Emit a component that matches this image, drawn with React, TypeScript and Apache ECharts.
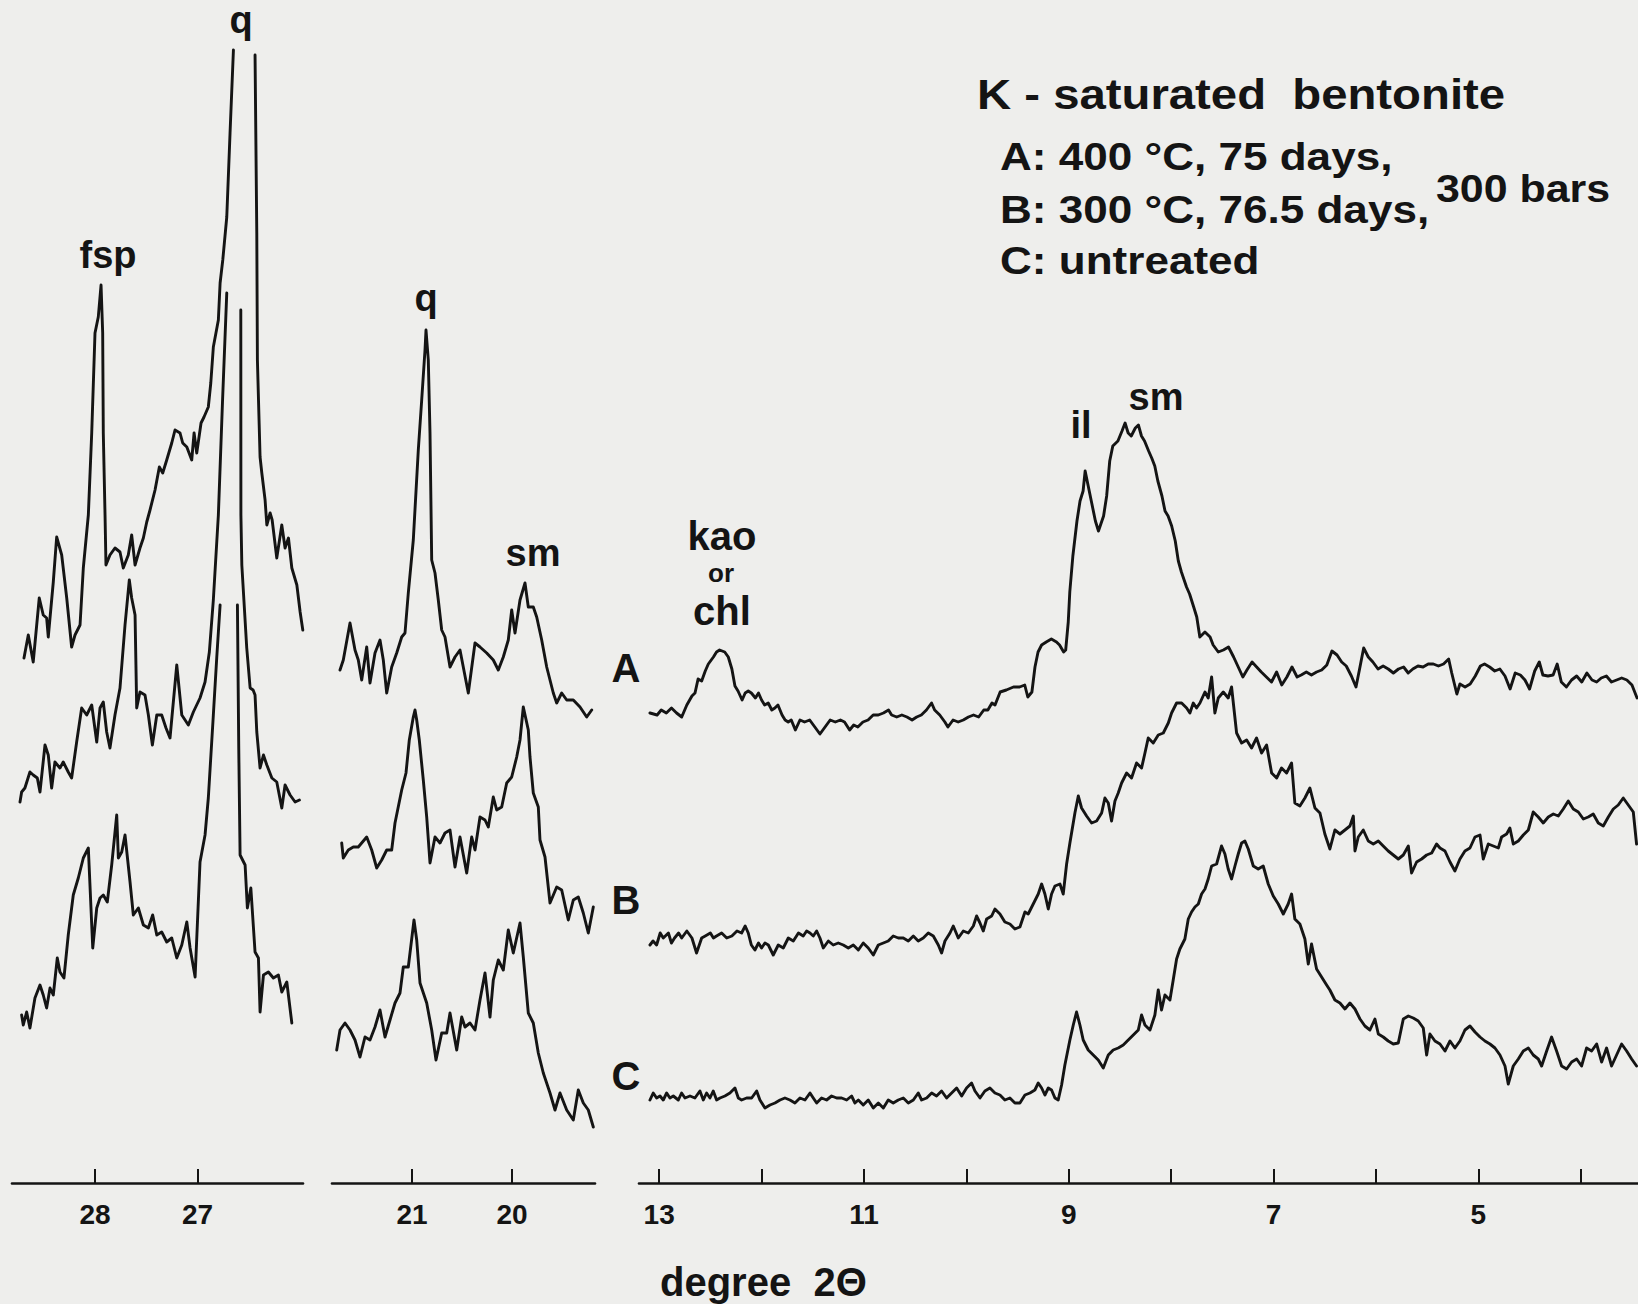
import React, { useEffect, useRef } from "react";
import * as echarts from "echarts";

type Pt = [number, number] | null;

// ---------- axis ticks ----------
const P1_TICKS = [28, 27];
const P2_TICKS = [21, 20];
const P3_TICKS = [13, 12, 11, 10, 9, 8, 7, 6, 5, 4];
const P3_LABELS = [13, 11, 9, 7, 5];

// ---------- traces: [2theta, plotted intensity]; null = pen off scale ----------
const P1_A: Pt[] = [[28.693,525],[28.651,548],[28.603,521],[28.544,585],[28.505,568],[28.472,565],[28.456,546],[28.407,601],[28.374,646],[28.325,628],[28.276,585],[28.228,536],[28.195,548],[28.146,558],[28.114,615],[28.065,668],[28.032,750],[28.0,850],[27.968,866],[27.941,898],[27.925,850],[27.919,750],[27.902,668],[27.893,618],[27.854,628],[27.805,635],[27.756,631],[27.724,615],[27.675,628],[27.642,648],[27.609,618],[27.561,635],[27.528,645],[27.495,661],[27.463,673],[27.414,693],[27.372,716],[27.339,710],[27.3,723],[27.251,740],[27.219,753],[27.17,750],[27.144,740],[27.104,736],[27.056,723],[27.033,750],[27.007,730],[26.965,760],[26.936,766],[26.894,776],[26.87,800],[26.845,836],[26.796,863],[26.779,900],[26.753,923],[26.714,966],[26.682,1050],[26.649,1133],null,[26.438,1128],[26.421,950],[26.415,823],[26.389,726],[26.372,710],[26.34,683],[26.323,658],[26.291,670],[26.271,663],[26.226,625],[26.177,658],[26.145,635],[26.112,645],[26.079,615],[26.03,598],[25.998,571],[25.972,553]];
const P1_B: Pt[] = [[28.732,381],[28.716,391],[28.684,395],[28.635,411],[28.603,408],[28.563,405],[28.537,391],[28.488,438],[28.456,428],[28.423,395],[28.391,421],[28.342,415],[28.31,421],[28.261,411],[28.228,405],[28.179,441],[28.13,475],[28.081,468],[28.032,478],[27.983,441],[27.951,475],[27.919,481],[27.886,451],[27.854,435],[27.805,468],[27.756,495],[27.707,558],[27.665,603],[27.642,585],[27.609,568],[27.593,475],[27.561,491],[27.512,488],[27.479,468],[27.44,438],[27.397,468],[27.349,468],[27.307,455],[27.268,445],[27.202,518],[27.153,468],[27.089,458],[27.04,471],[26.975,485],[26.926,501],[26.884,531],[26.845,583],[26.796,668],[26.755,783],[26.714,890],null,[26.577,873],[26.576,668],[26.567,618],[26.519,535],[26.486,495],[26.457,493],[26.438,488],[26.421,451],[26.389,415],[26.356,428],[26.323,418],[26.274,405],[26.226,401],[26.177,375],[26.145,398],[26.096,388],[26.047,381],[26.005,383]];
const P1_C: Pt[] = [[28.716,168],[28.7,158],[28.667,171],[28.635,155],[28.586,185],[28.537,198],[28.505,188],[28.472,175],[28.439,195],[28.407,188],[28.368,225],[28.342,211],[28.303,205],[28.261,248],[28.212,288],[28.163,305],[28.114,325],[28.065,335],[28.022,235],[27.983,275],[27.951,285],[27.919,288],[27.88,281],[27.837,318],[27.788,368],[27.772,325],[27.739,331],[27.707,348],[27.658,301],[27.626,268],[27.577,275],[27.528,258],[27.479,255],[27.437,268],[27.397,248],[27.349,251],[27.3,241],[27.251,245],[27.202,225],[27.153,238],[27.104,261],[27.072,235],[27.023,206],[26.975,321],[26.926,348],[26.894,385],[26.845,468],[26.812,525],[26.779,578],null,[26.61,578],[26.597,435],[26.584,328],[26.535,318],[26.513,275],[26.479,295],[26.438,231],[26.405,225],[26.389,171],[26.356,208],[26.308,211],[26.259,205],[26.21,208],[26.177,191],[26.128,201],[26.079,160]];

const P2_A: Pt[] = [[21.72,513],[21.687,523],[21.62,560],[21.57,533],[21.537,523],[21.503,503],[21.453,536],[21.42,500],[21.37,530],[21.32,543],[21.287,523],[21.253,490],[21.203,516],[21.153,530],[21.103,546],[21.07,550],[21.037,590],[20.987,643],[20.937,733],[20.903,783],[20.87,833],[20.86,853],[20.837,823],[20.82,750],[20.803,623],[20.77,610],[20.737,583],[20.703,553],[20.67,546],[20.62,516],[20.57,526],[20.52,533],[20.437,490],[20.37,540],[20.32,536],[20.253,530],[20.187,523],[20.137,513],[20.087,526],[20.037,543],[20.003,573],[19.97,550],[19.92,583],[19.87,600],[19.837,576],[19.787,576],[19.753,566],[19.703,543],[19.653,516],[19.587,490],[19.553,480],[19.503,490],[19.453,483],[19.387,483],[19.32,476],[19.253,466],[19.203,473]];
const P2_B: Pt[] = [[21.703,340],[21.687,325],[21.637,333],[21.587,336],[21.537,336],[21.453,346],[21.403,333],[21.353,315],[21.303,323],[21.253,333],[21.203,333],[21.17,360],[21.103,393],[21.06,410],[21.027,443],[20.987,466],[20.97,473],[20.953,463],[20.927,443],[20.887,403],[20.853,366],[20.82,320],[20.77,346],[20.72,340],[20.67,350],[20.62,353],[20.57,316],[20.52,346],[20.453,310],[20.403,346],[20.37,333],[20.32,366],[20.27,363],[20.237,356],[20.187,386],[20.153,373],[20.103,376],[20.053,400],[20.003,406],[19.953,426],[19.92,443],[19.887,476],[19.837,453],[19.82,426],[19.787,390],[19.737,376],[19.72,343],[19.67,326],[19.62,280],[19.553,296],[19.503,293],[19.437,263],[19.387,283],[19.337,286],[19.287,270],[19.237,250],[19.187,276]];
const P2_C: Pt[] = [[21.753,133],[21.72,153],[21.67,160],[21.62,153],[21.57,143],[21.52,126],[21.47,146],[21.42,143],[21.37,156],[21.32,173],[21.27,146],[21.22,163],[21.17,180],[21.12,190],[21.087,216],[21.037,216],[20.98,263],[20.953,243],[20.92,200],[20.853,180],[20.803,153],[20.76,123],[20.703,150],[20.653,150],[20.62,170],[20.553,133],[20.503,166],[20.47,156],[20.42,160],[20.37,153],[20.32,183],[20.27,210],[20.22,166],[20.187,203],[20.137,223],[20.087,213],[20.037,253],[19.987,230],[19.92,260],[19.887,226],[19.837,170],[19.787,160],[19.737,130],[19.687,110],[19.62,90],[19.57,73],[19.52,90],[19.453,73],[19.387,63],[19.337,93],[19.287,80],[19.237,73],[19.187,56]];

const P3_A: Pt[] = [[13.09,470],[13.02,468],[12.98,473],[12.93,470],[12.88,475],[12.83,470],[12.78,466],[12.73,478],[12.68,487],[12.65,490],[12.62,504],[12.585,502],[12.55,512],[12.52,519],[12.47,526],[12.44,531],[12.41,533],[12.36,531],[12.325,526],[12.29,514],[12.26,497],[12.23,492],[12.19,483],[12.16,490],[12.13,492],[12.10,490],[12.06,485],[12.03,490],[12.00,483],[11.97,478],[11.935,480],[11.90,473],[11.87,475],[11.84,478],[11.80,468],[11.77,463],[11.74,461],[11.71,463],[11.67,453],[11.625,463],[11.58,461],[11.53,463],[11.48,456],[11.43,449],[11.38,456],[11.33,463],[11.28,461],[11.23,463],[11.19,461],[11.14,453],[11.10,458],[11.06,456],[11.01,461],[10.96,463],[10.91,468],[10.86,468],[10.81,470],[10.76,473],[10.73,468],[10.68,466],[10.63,468],[10.58,466],[10.53,463],[10.485,466],[10.44,468],[10.39,473],[10.34,480],[10.31,473],[10.26,468],[10.21,461],[10.18,456],[10.13,463],[10.08,461],[10.03,463],[9.98,466],[9.93,468],[9.88,466],[9.83,473],[9.79,473],[9.75,480],[9.72,478],[9.67,491],[9.61,493],[9.54,496],[9.48,496],[9.43,498],[9.40,486],[9.36,491],[9.33,516],[9.30,531],[9.265,538],[9.22,541],[9.17,544],[9.12,541],[9.09,538],[9.05,531],[9.03,533],[9.005,561],[8.99,591],[8.96,627],[8.92,662],[8.89,682],[8.86,692],[8.84,712],[8.81,697],[8.78,682],[8.74,662],[8.71,652],[8.66,667],[8.63,687],[8.60,722],[8.57,737],[8.52,742],[8.48,752],[8.45,760],[8.42,750],[8.39,747],[8.35,755],[8.32,758],[8.29,747],[8.26,742],[8.22,732],[8.19,725],[8.16,717],[8.13,702],[8.09,687],[8.06,672],[8.03,667],[7.995,657],[7.96,642],[7.93,622],[7.90,611],[7.85,596],[7.82,589],[7.78,576],[7.75,566],[7.72,546],[7.67,551],[7.62,546],[7.59,538],[7.54,531],[7.49,533],[7.44,536],[7.39,526],[7.345,516],[7.30,506],[7.26,513],[7.21,521],[7.165,516],[7.12,511],[7.07,506],[7.02,501],[6.97,511],[6.92,498],[6.87,506],[6.82,516],[6.77,506],[6.73,508],[6.68,511],[6.63,508],[6.58,511],[6.53,513],[6.48,518],[6.43,532],[6.38,528],[6.335,521],[6.29,517],[6.24,507],[6.195,496],[6.16,514],[6.12,535],[6.075,526],[6.03,521],[5.98,514],[5.93,517],[5.88,514],[5.83,510],[5.78,514],[5.73,516],[5.685,510],[5.64,514],[5.59,517],[5.54,516],[5.49,519],[5.44,519],[5.39,517],[5.34,519],[5.29,524],[5.26,510],[5.21,489],[5.18,499],[5.13,496],[5.08,499],[5.03,507],[4.98,517],[4.94,519],[4.89,516],[4.84,512],[4.79,514],[4.74,507],[4.69,494],[4.64,510],[4.59,508],[4.545,503],[4.50,494],[4.45,512],[4.405,521],[4.37,508],[4.32,507],[4.27,508],[4.23,519],[4.19,501],[4.14,496],[4.09,503],[4.04,507],[3.99,501],[3.94,510],[3.89,503],[3.845,501],[3.80,505],[3.75,507],[3.70,501],[3.65,503],[3.60,505],[3.55,503],[3.50,498],[3.45,485]];
const P3_B: Pt[] = [[13.09,238],[13.06,242],[13.025,238],[12.99,250],[12.96,245],[12.91,250],[12.88,240],[12.85,245],[12.81,250],[12.78,245],[12.73,252],[12.68,245],[12.635,230],[12.585,245],[12.55,247],[12.50,250],[12.47,245],[12.44,247],[12.39,250],[12.34,245],[12.29,247],[12.24,252],[12.195,250],[12.16,257],[12.13,250],[12.10,238],[12.065,233],[12.03,240],[12.00,235],[11.967,240],[11.934,238],[11.886,228],[11.837,238],[11.788,235],[11.739,245],[11.69,242],[11.64,250],[11.593,247],[11.56,252],[11.527,250],[11.495,247],[11.462,252],[11.43,245],[11.397,235],[11.348,242],[11.3,238],[11.251,240],[11.202,238],[11.153,235],[11.104,238],[11.055,233],[11.007,240],[10.958,235],[10.909,228],[10.86,238],[10.811,240],[10.763,242],[10.714,247],[10.665,245],[10.616,245],[10.567,242],[10.518,247],[10.47,242],[10.421,245],[10.372,250],[10.323,247],[10.274,238],[10.242,230],[10.209,242],[10.16,250],[10.128,257],[10.079,245],[10.03,252],[9.981,250],[9.932,257],[9.9,267],[9.867,260],[9.835,252],[9.802,264],[9.753,267],[9.721,274],[9.672,269],[9.624,261],[9.575,259],[9.526,254],[9.477,256],[9.428,271],[9.396,269],[9.347,279],[9.298,289],[9.265,299],[9.233,289],[9.2,274],[9.168,289],[9.135,297],[9.086,299],[9.054,289],[9.021,319],[8.989,340],[8.94,370],[8.907,387],[8.875,375],[8.826,367],[8.777,360],[8.728,362],[8.679,370],[8.647,385],[8.614,380],[8.582,362],[8.549,382],[8.517,390],[8.484,400],[8.435,410],[8.387,405],[8.338,420],[8.289,415],[8.256,430],[8.224,445],[8.175,440],[8.126,448],[8.077,450],[8.028,460],[7.996,470],[7.947,480],[7.898,480],[7.849,475],[7.817,470],[7.784,480],[7.752,475],[7.719,480],[7.67,491],[7.638,485],[7.605,506],[7.573,470],[7.54,485],[7.491,491],[7.443,485],[7.41,496],[7.361,450],[7.312,440],[7.263,443],[7.215,435],[7.166,445],[7.117,430],[7.068,438],[7.019,410],[6.97,405],[6.922,415],[6.873,410],[6.824,420],[6.792,380],[6.743,377],[6.694,385],[6.645,395],[6.596,375],[6.547,370],[6.499,349],[6.45,334],[6.401,353],[6.352,349],[6.303,353],[6.254,357],[6.221,367],[6.205,332],[6.173,346],[6.124,353],[6.075,342],[6.026,339],[5.977,342],[5.929,337],[5.88,332],[5.831,328],[5.782,324],[5.733,328],[5.684,337],[5.652,310],[5.603,321],[5.554,324],[5.505,328],[5.456,330],[5.408,339],[5.375,335],[5.326,332],[5.277,321],[5.229,312],[5.18,324],[5.131,332],[5.082,335],[5.033,346],[4.984,348],[4.952,324],[4.903,339],[4.854,337],[4.805,335],[4.773,346],[4.724,349],[4.692,355],[4.659,339],[4.61,342],[4.561,348],[4.512,353],[4.464,371],[4.415,366],[4.366,360],[4.317,366],[4.268,369],[4.219,367],[4.171,374],[4.122,382],[4.073,374],[4.024,371],[3.975,364],[3.927,366],[3.878,369],[3.829,360],[3.78,357],[3.731,366],[3.682,374],[3.634,378],[3.585,385],[3.536,378],[3.487,371],[3.455,339]];
const P3_C: Pt[] = [[13.09,83],[13.058,90],[13.025,85],[12.992,87],[12.96,83],[12.927,90],[12.895,85],[12.862,87],[12.813,83],[12.781,90],[12.748,85],[12.699,87],[12.651,85],[12.602,92],[12.569,83],[12.537,90],[12.504,85],[12.472,92],[12.439,83],[12.406,85],[12.358,87],[12.309,90],[12.26,95],[12.227,85],[12.195,83],[12.146,85],[12.097,85],[12.048,92],[12.016,83],[11.967,75],[11.918,78],[11.869,80],[11.82,83],[11.772,85],[11.723,83],[11.674,80],[11.625,85],[11.576,83],[11.527,90],[11.495,85],[11.462,80],[11.414,85],[11.365,83],[11.316,87],[11.267,85],[11.218,85],[11.169,83],[11.121,87],[11.088,80],[11.055,83],[11.007,78],[10.958,83],[10.909,75],[10.86,80],[10.811,75],[10.763,83],[10.714,80],[10.665,83],[10.616,85],[10.567,80],[10.518,83],[10.47,90],[10.437,83],[10.388,85],[10.339,90],[10.291,87],[10.242,92],[10.193,85],[10.144,90],[10.095,95],[10.046,87],[9.998,95],[9.949,100],[9.916,92],[9.867,85],[9.819,92],[9.77,95],[9.721,90],[9.672,88],[9.624,83],[9.575,85],[9.526,80],[9.477,80],[9.428,88],[9.379,90],[9.331,93],[9.298,100],[9.265,95],[9.233,88],[9.2,95],[9.168,93],[9.135,85],[9.103,83],[9.07,98],[9.038,118],[8.989,143],[8.956,158],[8.924,171],[8.891,158],[8.859,143],[8.81,133],[8.761,128],[8.712,123],[8.663,115],[8.614,128],[8.566,133],[8.517,135],[8.468,138],[8.419,143],[8.37,148],[8.321,153],[8.289,168],[8.256,158],[8.207,153],[8.159,168],[8.126,193],[8.094,173],[8.061,188],[8.012,183],[7.98,203],[7.947,224],[7.915,234],[7.866,244],[7.833,264],[7.801,271],[7.768,276],[7.735,279],[7.703,289],[7.67,294],[7.638,304],[7.605,317],[7.556,319],[7.508,337],[7.475,329],[7.443,314],[7.41,304],[7.377,317],[7.345,329],[7.312,340],[7.28,342],[7.247,334],[7.198,317],[7.15,314],[7.101,317],[7.052,299],[7.003,287],[6.954,279],[6.905,269],[6.857,279],[6.824,289],[6.792,264],[6.743,259],[6.694,244],[6.661,219],[6.629,239],[6.58,214],[6.531,206],[6.482,198],[6.45,193],[6.401,183],[6.352,180],[6.303,174],[6.254,180],[6.205,174],[6.156,164],[6.108,157],[6.059,153],[6.01,164],[5.977,149],[5.929,146],[5.88,142],[5.831,139],[5.782,140],[5.733,164],[5.684,167],[5.636,165],[5.587,162],[5.538,155],[5.505,128],[5.473,149],[5.424,142],[5.375,139],[5.326,132],[5.277,142],[5.229,135],[5.18,142],[5.131,153],[5.082,157],[5.033,151],[4.984,146],[4.936,142],[4.887,139],[4.838,135],[4.789,128],[4.74,117],[4.708,99],[4.659,117],[4.61,124],[4.561,132],[4.512,135],[4.464,128],[4.415,124],[4.382,117],[4.333,132],[4.285,146],[4.236,132],[4.187,117],[4.138,114],[4.089,121],[4.04,124],[3.992,117],[3.943,135],[3.894,132],[3.845,139],[3.796,121],[3.748,135],[3.699,117],[3.65,128],[3.601,139],[3.552,132],[3.503,124],[3.455,117]];

// ---------- texts ----------
const TITLE = "K - saturated  bentonite";
const CONDITIONS = ["A: 400 °C, 75 days,", "B: 300 °C, 76.5 days,", "C: untreated"];
const PRESSURE = "300 bars";
const X_TITLE = "degree  2Θ";

// ---------- layout / style ----------
const W = 1638;
const H = 1304;
const AXIS_Y = 1183;
const INK = "#141414";
const BG = "#eeeeec";
const FONT = '"Liberation Sans", Arial, sans-serif';
const NARROW = '"Liberation Sans Narrow", "Liberation Sans", Arial, sans-serif';

const PANELS = [
  { left: 12, width: 291, min: 25.97, max: 28.81, ticks: P1_TICKS, labels: P1_TICKS, traces: [P1_A, P1_B, P1_C] },
  { left: 332, width: 263, min: 19.17, max: 21.8, ticks: P2_TICKS, labels: P2_TICKS, traces: [P2_A, P2_B, P2_C] },
  { left: 639, width: 999, min: 3.441, max: 13.197, ticks: P3_TICKS, labels: P3_LABELS, traces: [P3_A, P3_B, P3_C] },
];

const PEAK_LABELS = [
  { text: "q", x: 241, base: 33, size: 38 },
  { text: "fsp", x: 108, base: 268, size: 38 },
  { text: "q", x: 426, base: 311, size: 38 },
  { text: "sm", x: 533, base: 566, size: 38 },
  { text: "kao", x: 722, base: 550, size: 40 },
  { text: "or", x: 721, base: 582, size: 26 },
  { text: "chl", x: 722, base: 625, size: 40 },
  { text: "il", x: 1081, base: 438, size: 38 },
  { text: "sm", x: 1156, base: 410, size: 38 },
  { text: "A", x: 626, base: 682, size: 40 },
  { text: "B", x: 626, base: 914, size: 40 },
  { text: "C", x: 626, base: 1090, size: 40 },
];

function segments(pts: Pt[]): [number, number][][] {
  const out: [number, number][][] = [[]];
  for (const p of pts) {
    if (p === null) out.push([]);
    else out[out.length - 1].push(p);
  }
  return out.filter((s) => s.length > 1);
}

function textEl(text: string, x: number, base: number, size: number, align: string, scaleX = 1) {
  return {
    type: "text",
    x,
    y: base - 0.35 * size,
    scaleX,
    silent: true,
    style: {
      text,
      fill: INK,
      fontSize: size,
      fontWeight: "bold",
      fontFamily: FONT,
      align,
      verticalAlign: "middle",
    },
  };
}

export default function App() {
  const ref = useRef<HTMLDivElement>(null);

  useEffect(() => {
    document.body.style.margin = "0";
    document.body.style.background = BG;
    if (!ref.current) return;
    const chart = echarts.init(ref.current, undefined, { renderer: "svg" });

    const grid = PANELS.map((p) => ({ left: p.left, width: p.width, top: 0, height: AXIS_Y }));
    const xAxis = PANELS.map((p, i) => ({
      type: "value",
      gridIndex: i,
      min: p.min,
      max: p.max,
      inverse: true,
      axisLine: { show: true, onZero: false, lineStyle: { color: INK, width: 2.6 } },
      axisTick: { show: true, inside: true, length: 14, customValues: p.ticks, lineStyle: { color: INK, width: 2 } },
      axisLabel: {
        show: true,
        customValues: p.labels,
        margin: 17,
        color: INK,
        fontSize: 28,
        fontWeight: "bold",
        fontFamily: NARROW,
      },
      splitLine: { show: false },
    }));
    const yAxis = PANELS.map((_, i) => ({ type: "value", gridIndex: i, min: 0, max: AXIS_Y, show: false }));

    const series: any[] = [];
    PANELS.forEach((p, i) => {
      p.traces.forEach((tr) => {
        segments(tr).forEach((seg) => {
          series.push({
            type: "line",
            xAxisIndex: i,
            yAxisIndex: i,
            data: seg,
            showSymbol: false,
            symbol: "none",
            silent: true,
            lineStyle: { color: INK, width: 2.9, join: "round", cap: "round" },
          });
        });
      });
    });

    const graphic: any[] = [
      ...PEAK_LABELS.map((l) => textEl(l.text, l.x, l.base, l.size, "center")),
      textEl(TITLE, 977, 109, 43, "left", 1.1),
      textEl(CONDITIONS[0], 1000, 170, 39, "left", 1.13),
      textEl(CONDITIONS[1], 1000, 223, 39, "left", 1.13),
      textEl(CONDITIONS[2], 1000, 274, 39, "left", 1.13),
      textEl(PRESSURE, 1436, 202, 39, "left", 1.1),
      textEl(X_TITLE, 660, 1296, 40, "left", 1.0),
    ];

    chart.setOption({
      animation: false,
      backgroundColor: BG,
      grid,
      xAxis,
      yAxis,
      series,
      graphic,
    });
    return () => chart.dispose();
  }, []);

  return <div ref={ref} style={{ width: W, height: H }} />;
}
